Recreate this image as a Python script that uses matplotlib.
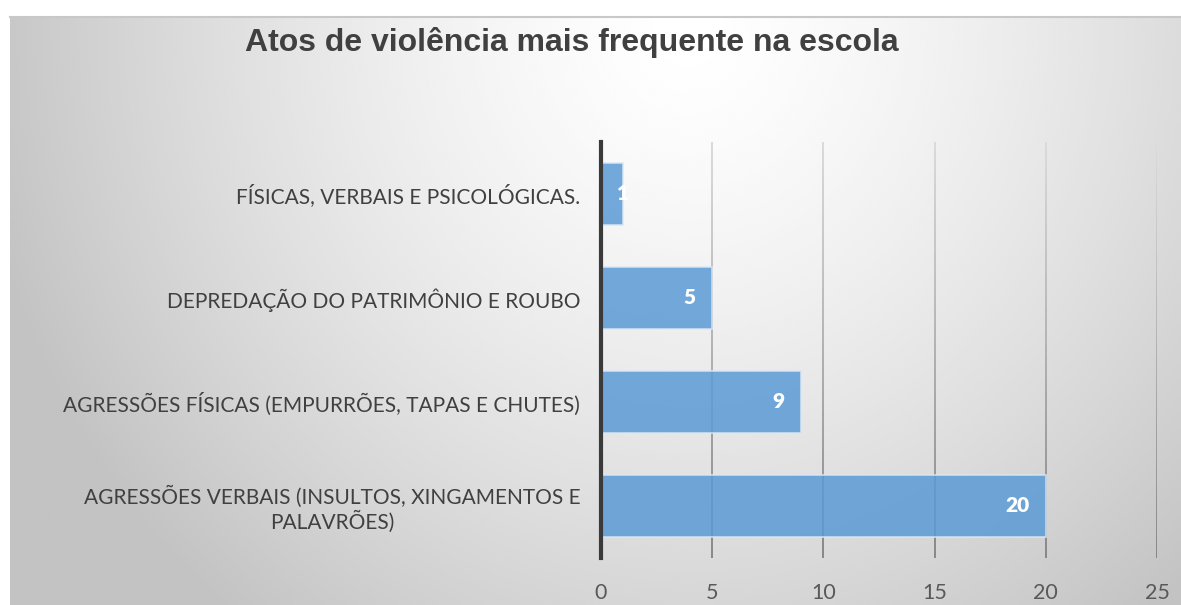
import numpy as np
import matplotlib.pyplot as plt
from matplotlib.collections import LineCollection

# Data (bottom to top, as drawn)
categories = [
    "AGRESSÕES VERBAIS (INSULTOS, XINGAMENTOS E\nPALAVRÕES)",
    "AGRESSÕES FÍSICAS (EMPURRÕES, TAPAS E CHUTES)",
    "DEPREDAÇÃO DO PATRIMÔNIO E ROUBO",
    "FÍSICAS, VERBAIS E PSICOLÓGICAS.",
]
values = [20, 9, 5, 1]
x_ticks = [0, 5, 10, 15, 20, 25]

W, H = 1181, 605
fig = plt.figure(figsize=(W / 100, H / 100), dpi=100)
fig.patch.set_facecolor("white")

# Gradient background panel (radial, light near top centre)
bg = fig.add_axes([10 / W, 0, 1 - 10 / W, (H - 16) / H], zorder=0)
yy, xx = np.mgrid[0:1:300j, 0:1:600j]
r = np.sqrt(((xx - 0.58) / 0.55) ** 2 + ((yy - 0.02) / 1.15) ** 2)
shade = np.clip(1.0 - 0.2 * r ** 1.4, 0.765, 1.0)
bg.imshow(shade, cmap="gray", vmin=0, vmax=1, aspect="auto",
          extent=[0, 1, 1, 0], interpolation="bicubic")
bg.set_axis_off()
bg.plot([0, 1], [0.999, 0.999], color="#c8c8c8", lw=1.5,
        transform=bg.transAxes, clip_on=False)

ax = fig.add_axes([601 / W, 1 - 558 / H, (1157 - 601) / W, (558 - 142) / H], zorder=1)
ax.patch.set_alpha(0)
ax.set_xlim(0, 25)
ax.set_ylim(-0.5, len(categories) - 0.5)

# vertical gridlines, lighter at the top, darker at the bottom
n = 60
ys = np.linspace(-0.5, len(categories) - 0.5, n + 1)
segs, cols = [], []
for xt in x_ticks[1:]:
    for i in range(n):
        segs.append([(xt, ys[i]), (xt, ys[i + 1])])
        t = i / n
        g = 0.53 + 0.33 * t
        cols.append((g, g, g))
ax.add_collection(LineCollection(segs, colors=cols, linewidths=1.4, zorder=1))

y = np.arange(len(categories))
ax.barh(y, values, height=0.6, color="#5b9bd5", alpha=0.85,
        edgecolor="#dbe8f5", linewidth=1.2, zorder=3)

for yi, v in zip(y, values):
    if v > 2:
        ax.text(v - 0.75, yi, str(v), ha="right", va="center", color="white",
                fontsize=15, fontweight="heavy", family="Lato", zorder=4)
    else:
        ax.text(v, yi, str(v), ha="center", va="center", color="white",
                fontsize=15, fontweight="heavy", family="Lato", zorder=4)

ax.set_xticks(x_ticks)
ax.set_yticks(y)
ax.set_yticklabels(categories, fontsize=15, family="Lato", color="#404040",
                   multialignment="center", linespacing=1.15)
ax.tick_params(axis="y", length=0, pad=15)
ax.tick_params(axis="x", length=0, pad=18, labelsize=15.5, labelcolor="#595959")
for lab in ax.get_xticklabels():
    lab.set_family("Lato")

for s in ["top", "right", "bottom"]:
    ax.spines[s].set_visible(False)
ax.spines["left"].set_color("#3a3a3a")
ax.spines["left"].set_linewidth(3)
ax.spines["left"].set_zorder(5)

fig.text(0.484, 1 - 43 / H, "Atos de violência mais frequente na escola",
         ha="center", va="center", fontsize=23, fontweight="bold",
         family="Liberation Sans", color="#404040")

fig.savefig("out.png", dpi=100)
